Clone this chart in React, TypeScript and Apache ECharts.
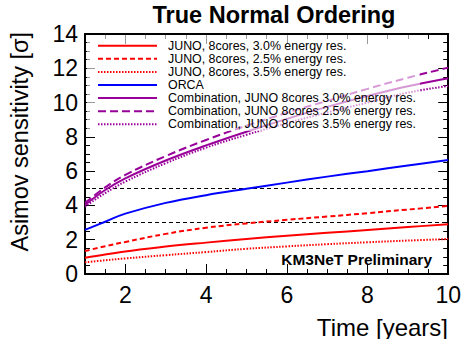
import React, { useEffect, useRef } from "react";
import * as echarts from "echarts";

// ---- data ----
const years = [1, 1.5, 2, 3, 4, 5, 6, 7, 8, 9, 10];
const juno30 = [0.95, 1.14, 1.31, 1.6, 1.83, 2.04, 2.23, 2.4, 2.57, 2.74, 2.9];
const juno25 = [1.34, 1.62, 1.87, 2.34, 2.7, 2.95, 3.16, 3.35, 3.55, 3.76, 3.97];
const juno35 = [0.68, 0.8, 0.91, 1.1, 1.28, 1.47, 1.61, 1.74, 1.85, 1.95, 2.04];
const orca = [2.57, 3.05, 3.52, 4.15, 4.6, 4.97, 5.33, 5.68, 6.0, 6.33, 6.65];
const combo30 = [4.03, 4.9, 5.58, 6.62, 7.5, 8.3, 9.05, 9.75, 10.38, 10.95, 11.42];
const combo25 = [4.15, 5.05, 5.78, 6.88, 7.82, 8.65, 9.4, 10.1, 10.8, 11.45, 12.04];
const combo35 = [3.93, 4.72, 5.39, 6.46, 7.37, 8.12, 8.8, 9.42, 10.0, 10.58, 10.97];
const seriesNames = [
  "JUNO, 8cores, 3.0% energy res.",
  "JUNO, 8cores, 2.5% energy res.",
  "JUNO, 8cores, 3.5% energy res.",
  "ORCA",
  "Combination, JUNO 8cores 3.0% energy res.",
  "Combination, JUNO 8cores 2.5% energy res.",
  "Combination, JUNO 8cores 3.5% energy res.",
];
const seriesValues = [juno30, juno25, juno35, orca, combo30, combo25, combo35];
const thresholds = [3, 5];
const xMajorTicks = [2, 4, 6, 8, 10];
const titleText = "True Normal Ordering";
const xName = "Time [years]";
const yName = "Asimov sensitivity [σ]";
const watermark = "KM3NeT Preliminary";

// ---- styles ----
const RED = "#ff0000";
const BLUE = "#0000ff";
const PURPLE = "#990099";
const styles: { color: string; dash: number[] | null }[] = [
  { color: RED, dash: null },
  { color: RED, dash: [5, 3] },
  { color: RED, dash: [1.5, 1.5] },
  { color: BLUE, dash: null },
  { color: PURPLE, dash: null },
  { color: PURPLE, dash: [8, 4] },
  { color: PURPLE, dash: [1.5, 1.5] },
];
const FONT = 'Arial, "Liberation Sans", Helvetica, sans-serif';

export default function App() {
  const ref = useRef<HTMLDivElement>(null);
  useEffect(() => {
    document.body.style.margin = "0";
    if (!ref.current) return;
    const chart = echarts.init(ref.current, null, { renderer: "svg" });

    const gridL = 85, gridT = 34, gridR = 15, gridB = 65;

    const series: any[] = seriesValues.map((vals, i) => ({
      name: seriesNames[i],
      type: "line",
      smooth: 0.4,
      symbol: "none",
      xAxisIndex: 0,
      yAxisIndex: 0,
      z: 3,
      data: vals.map((v, j) => [years[j], v]),
      lineStyle: {
        color: styles[i].color,
        width: 2,
        type: styles[i].dash ? styles[i].dash : "solid",
      },
      itemStyle: { color: styles[i].color },
    }));
    series[0].markLine = {
      silent: true,
      symbol: "none",
      label: { show: false },
      lineStyle: { color: "#000", width: 1, type: [4, 3] },
      data: thresholds.map((t) => ({ yAxis: t })),
      z: 2,
    };

    const legendRowH = 13.1;
    const legendTop = 45.7;
    const legendEls: any[] = [];
    legendEls.push({
      type: "rect",
      z: 100,
      shape: { x: 87, y: 35, width: 333, height: 96 },
      style: { fill: "rgba(255,255,255,0.6)" },
    });
    seriesNames.forEach((n, i) => {
      const y = legendTop + i * legendRowH;
      legendEls.push({
        type: "line",
        z: 101,
        shape: { x1: 98, y1: y, x2: 157, y2: y },
        style: {
          stroke: styles[i].color,
          lineWidth: 2,
          lineDash: styles[i].dash || null,
        },
      });
      legendEls.push({
        type: "text",
        z: 101,
        x: 168,
        y: y,
        style: {
          text: n,
          fill: "#000",
          font: `12.4px ${FONT}`,
          textAlign: "left",
          textVerticalAlign: "middle",
          verticalAlign: "middle",
        },
      });
    });

    const axisCommon = {
      min: 1,
      max: 10,
      splitLine: { show: false },
    };
    const yCommon = {
      type: "value",
      min: 0,
      max: 14,
      interval: 2,
      splitLine: { show: false },
    };

    chart.setOption({
      animation: false,
      grid: { left: gridL, top: gridT, right: gridR, bottom: gridB, containLabel: false },
      xAxis: [
        {
          type: "value",
          ...axisCommon,
          position: "bottom",
          interval: 0.5,
          axisLine: { show: true, lineStyle: { color: "#000", width: 2 } },
          axisTick: { show: true, inside: true, length: 5, lineStyle: { color: "#000", width: 1 } },
          axisLabel: {
            show: true,
            margin: 9,
            fontSize: 23,
            fontFamily: FONT,
            color: "#000",
            formatter: (v: number) => (xMajorTicks.indexOf(v) >= 0 ? String(v) : ""),
          },
        },
        {
          type: "value",
          ...axisCommon,
          position: "bottom",
          axisLine: { show: false },
          axisTick: {
            show: true,
            inside: true,
            length: 10,
            customValues: xMajorTicks,
            lineStyle: { color: "#000", width: 1 },
          },
          axisLabel: { show: false },
        },
        {
          type: "value",
          ...axisCommon,
          position: "top",
          interval: 0.5,
          axisLine: { show: true, lineStyle: { color: "#000", width: 2 } },
          axisTick: { show: true, inside: true, length: 5, lineStyle: { color: "#000", width: 1 } },
          axisLabel: { show: false },
        },
        {
          type: "value",
          ...axisCommon,
          position: "top",
          axisLine: { show: false },
          axisTick: {
            show: true,
            inside: true,
            length: 10,
            customValues: xMajorTicks,
            lineStyle: { color: "#000", width: 1 },
          },
          axisLabel: { show: false },
        },
      ],
      yAxis: [
        {
          ...yCommon,
          position: "left",
          axisLine: { show: true, lineStyle: { color: "#000", width: 2 } },
          axisTick: { show: true, inside: true, length: 10, lineStyle: { color: "#000", width: 1 } },
          minorTick: { show: true, splitNumber: 4, length: 5, lineStyle: { color: "#000", width: 1 } },
          minorSplitLine: { show: false },
          axisLabel: { show: true, margin: 7, fontSize: 23, fontFamily: FONT, color: "#000" },
        },
        {
          ...yCommon,
          position: "right",
          axisLine: { show: true, lineStyle: { color: "#000", width: 2 } },
          axisTick: { show: true, inside: true, length: 10, lineStyle: { color: "#000", width: 1 } },
          minorTick: { show: true, splitNumber: 4, length: 5, lineStyle: { color: "#000", width: 1 } },
          minorSplitLine: { show: false },
          axisLabel: { show: false },
        },
      ],
      series,
      graphic: [
        ...legendEls,
        {
          type: "text",
          z: 101,
          x: 274,
          y: 15,
          style: {
            text: titleText,
            fill: "#000",
            font: `bold 23.5px ${FONT}`,
            textAlign: "center",
            textVerticalAlign: "middle",
            verticalAlign: "middle",
          },
        },
        {
          type: "text",
          z: 101,
          x: 448,
          y: 327,
          style: {
            text: xName,
            fill: "#000",
            font: `24px ${FONT}`,
            textAlign: "right",
            textVerticalAlign: "middle",
            verticalAlign: "middle",
          },
        },
        {
          type: "text",
          z: 101,
          x: 20,
          y: 32,
          rotation: Math.PI / 2,
          style: {
            text: yName,
            fill: "#000",
            font: `23.5px ${FONT}`,
            textAlign: "right",
            textVerticalAlign: "middle",
            verticalAlign: "middle",
          },
        },
        {
          type: "text",
          z: 101,
          x: 432,
          y: 259,
          style: {
            text: watermark,
            fill: "#000",
            font: `bold 15.5px ${FONT}`,
            textAlign: "right",
            textVerticalAlign: "middle",
            verticalAlign: "middle",
          },
        },
      ],
    });
    return () => chart.dispose();
  }, []);
  return <div ref={ref} style={{ width: 464, height: 339 }} />;
}
